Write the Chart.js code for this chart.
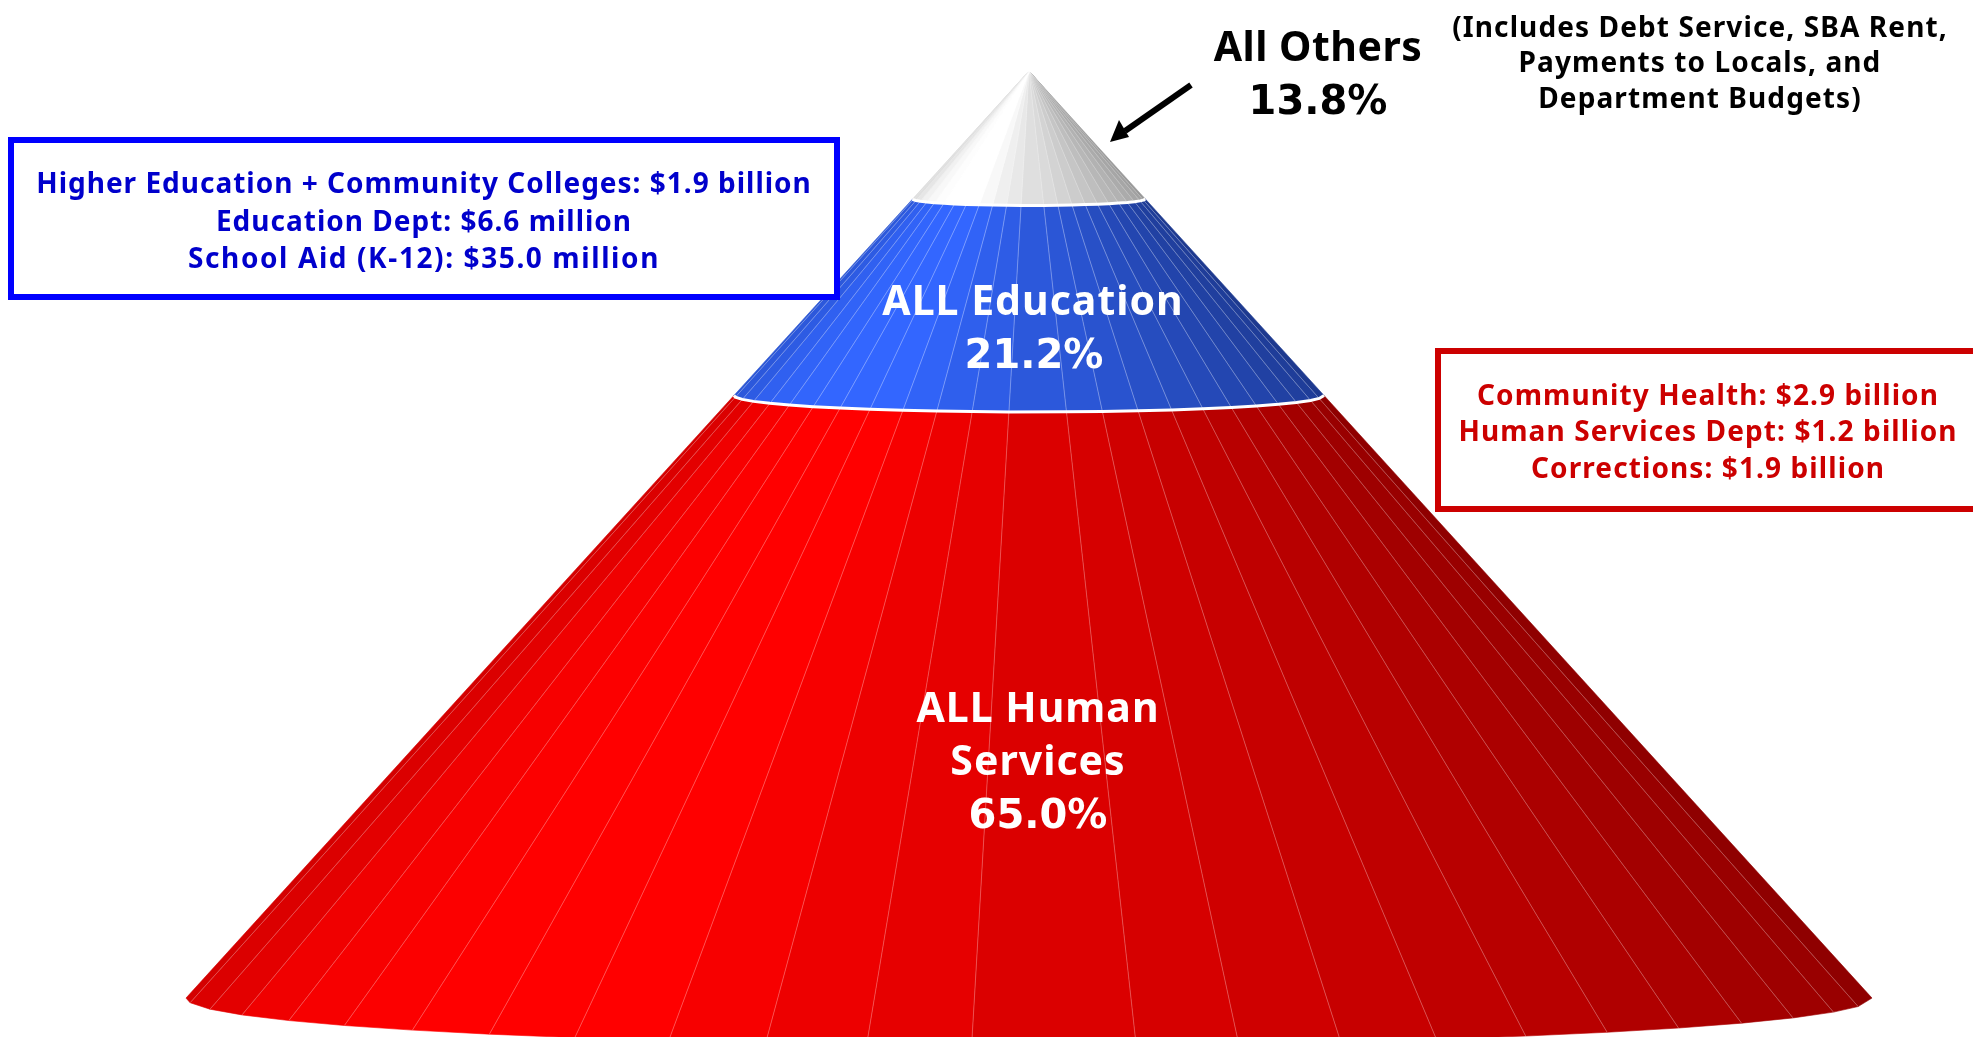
<!DOCTYPE html>
<html>
<head>
<meta charset="utf-8">
<title>Budget cone</title>
<style>
  html, body { margin: 0; padding: 0; background: #fff; overflow: hidden; }
  #cone { display: block; }
</style>
<script src="https://cdn.jsdelivr.net/npm/chart.js@4"></script>
</head>
<body>
<canvas id="cone" width="1973" height="1037"></canvas>
<script>
// values, top of the cone first
const tierNames = [['All Others'], ['ALL Education'], ['ALL Human', 'Services']];
const tierShares = [13.8, 21.2, 65.0];
const educationLines = ['Higher Education + Community Colleges: $1.9 billion', 'Education Dept: $6.6 million'];
const schoolLine = ['School Aid (K-12): $35.0 million'];
const humanLines = ['Community Health: $2.9 billion', 'Human Services Dept: $1.2 billion', 'Corrections: $1.9 billion'];
const othersNote = ['(Includes Debt Service, SBA Rent,', 'Payments to Locals, and', 'Department Budgets)'];

// where the facet seams sit around the front of the cone (degrees) and how lit each facet is
const facetAngles = [180, 174.3, 166.3, 159, 151.4, 144.3, 137, 129.8, 122.6, 115.3, 108.2, 101.1, 93.9, 82.7, 75.6, 68.3, 61.1, 53.9, 46.7, 39.6, 32.3, 25, 17.4, 10.4, 0];
const facetShades = [0.83, 0.86, 0.89, 0.94, 0.97, 0.99, 1, 1, 1, 0.97, 0.93, 0.9, 0.86, 0.84, 0.81, 0.78, 0.75, 0.72, 0.69, 0.67, 0.64, 0.62, 0.6, 0.56];

const tierColors = [[255, 255, 255], [51, 102, 255], [255, 0, 0]];
const tierGamma = [0.9, 1, 1];
const seamColors = ['rgba(255,255,255,0.2)', 'rgba(255,255,255,0.32)', 'rgba(255,255,255,0.28)'];
const BASE_TILT = 5.07; // how far the rim sags at the base, in y units
const FONT = '"Noto Sans"';
const PCT_FONT = '"DejaVu Sans"'; // its digits are as wide as the original's

const rad = (deg) => (deg * Math.PI) / 180;
const conePoint = (cut, deg) => ({
  x: cut * Math.cos(rad(deg)),
  y: cut + (cut / 100) * BASE_TILT * Math.sin(rad(deg)),
});

const cuts = [0];
tierShares.forEach((share, i) => cuts.push(cuts[i] + share));

const shadeColor = (rgb, shade, gamma) => {
  const k = Math.pow(shade, gamma);
  return `rgb(${rgb.map((c) => Math.round(c * k)).join(',')})`;
};

const facetSets = [];
const seamSets = [];
const rimSets = [];

tierShares.forEach((share, t) => {
  const top = cuts[t];
  const bottom = cuts[t + 1];
  facetShades.forEach((shade, f) => {
    const a = facetAngles[f];
    const b = facetAngles[f + 1];
    const color = shadeColor(tierColors[t], shade, tierGamma[t]);
    facetSets.push({
      data: [conePoint(top, a), conePoint(top, b), conePoint(bottom, b), conePoint(bottom, a), conePoint(top, a)],
      fill: 'shape',
      backgroundColor: color,
      borderColor: color,
      borderWidth: 0.6,
      pointRadius: 0,
      tension: 0,
    });
  });
  const seamData = [];
  facetAngles.slice(1, -1).forEach((deg) => {
    seamData.push(conePoint(top, deg), conePoint(bottom, deg), { x: NaN, y: NaN });
  });
  seamSets.push({ data: seamData, borderColor: seamColors[t], borderWidth: 1, pointRadius: 0, fill: false, tension: 0 });
  if (t < tierShares.length - 1) {
    rimSets.push({
      data: facetAngles.map((deg) => conePoint(bottom, deg)),
      borderColor: '#ffffff',
      borderWidth: 3,
      pointRadius: 0,
      fill: false,
      tension: 0,
    });
  }
});

const drawLines = (ctx, lines, x, ys, font, color, spacing) => {
  ctx.font = font;
  ctx.letterSpacing = spacing;
  ctx.fillStyle = color;
  ctx.textAlign = 'center';
  ctx.textBaseline = 'middle';
  lines.forEach((line, i) => ctx.fillText(line, x, ys[i]));
};

const annotations = {
  id: 'annotations',
  afterDatasetsDraw(chart) {
    const { ctx } = chart;
    ctx.save();

    // callout boxes
    ctx.lineWidth = 6;
    ctx.strokeStyle = '#0000ff';
    ctx.fillStyle = '#ffffff';
    ctx.fillRect(11, 140, 826, 157);
    ctx.strokeRect(11, 140, 826, 157);
    ctx.strokeStyle = '#cc0000';
    ctx.fillRect(1438, 351, 560, 158);
    ctx.strokeRect(1438, 351, 560, 158);

    drawLines(ctx, educationLines, 424, [185, 223], `bold 28px ${FONT}`, '#0000cc', '1px');
    drawLines(ctx, schoolLine, 424, [260], `bold 28px ${FONT}`, '#0000cc', '1.6px');
    drawLines(ctx, humanLines, 1708, [397, 433, 470], `bold 28px ${FONT}`, '#cc0000', '1.1px');

    const pct = tierShares.map((v) => `${v.toFixed(1)}%`);
    const pctFont = `bold 40px ${PCT_FONT}`;
    drawLines(ctx, tierNames[0], 1318, [49], `bold 41px ${FONT}`, '#000000', '0.5px');
    drawLines(ctx, [pct[0]], 1318, [104], pctFont, '#000000', '0px');
    drawLines(ctx, othersNote, 1700, [29, 64, 100], `bold 28px ${FONT}`, '#000000', '1.1px');
    drawLines(ctx, tierNames[1], 1033, [303], `bold 41px ${FONT}`, '#ffffff', '1px');
    drawLines(ctx, [pct[1]], 1034, [358], pctFont, '#ffffff', '0px');
    drawLines(ctx, tierNames[2], 1038, [710, 763], `bold 41px ${FONT}`, '#ffffff', '1px');
    drawLines(ctx, [pct[2]], 1038, [818], pctFont, '#ffffff', '0px');

    // arrow to the top tier
    ctx.strokeStyle = '#000000';
    ctx.fillStyle = '#000000';
    ctx.lineWidth = 6;
    ctx.beginPath();
    ctx.moveTo(1191, 85);
    ctx.lineTo(1125, 131);
    ctx.stroke();
    ctx.beginPath();
    ctx.moveTo(1110, 142);
    ctx.lineTo(1119, 120);
    ctx.lineTo(1129, 137);
    ctx.closePath();
    ctx.fill();

    ctx.restore();
  },
};

new Chart(document.getElementById('cone'), {
  type: 'line',
  data: { datasets: [...rimSets, ...seamSets, ...facetSets] },
  options: {
    responsive: false,
    animation: false,
    layout: { padding: 0 },
    scales: {
      x: { type: 'linear', min: -122.06, max: 111.98, display: false },
      y: { type: 'linear', min: -7.66, max: 104.2, reverse: true, display: false },
    },
    plugins: { legend: { display: false }, tooltip: { enabled: false } },
  },
  plugins: [annotations],
});
</script>
</body>
</html>
